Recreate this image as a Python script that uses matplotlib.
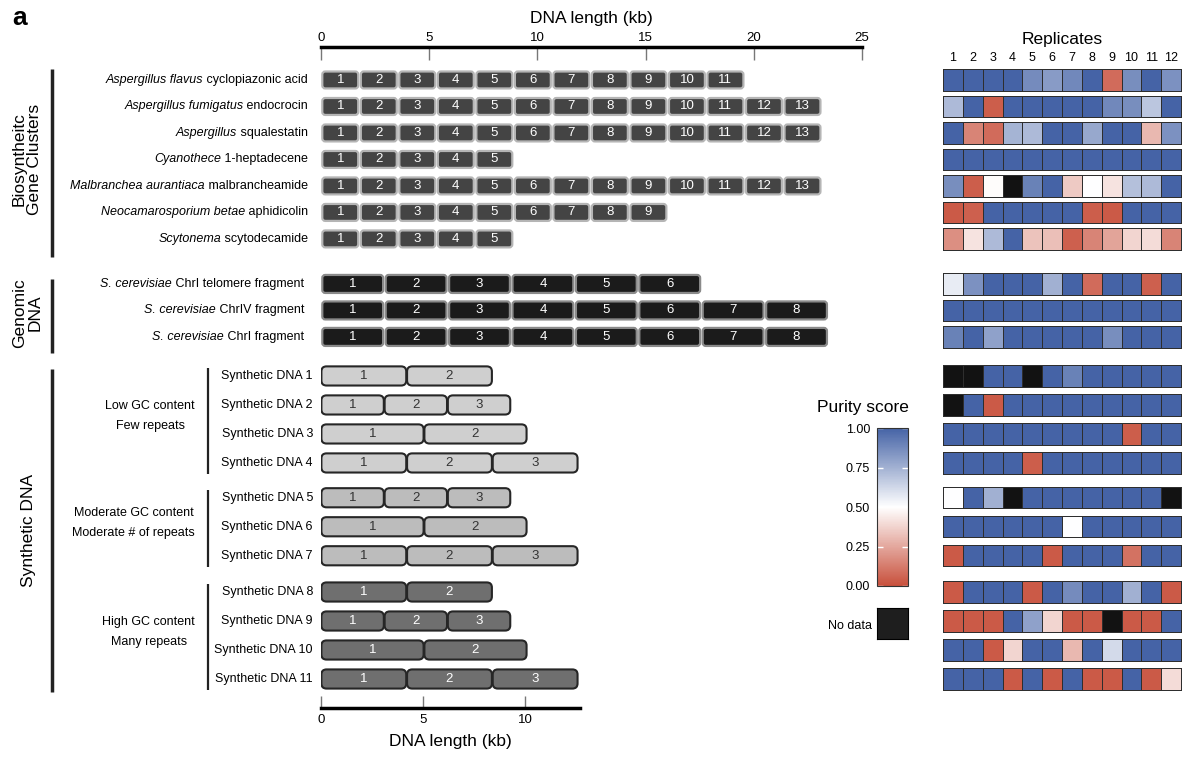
import numpy as np
import matplotlib
matplotlib.use("Agg")
import matplotlib.pyplot as plt
import matplotlib.transforms as mtransforms
from matplotlib.patches import FancyBboxPatch
from matplotlib.colors import LinearSegmentedColormap, Normalize
from matplotlib.cm import ScalarMappable
from matplotlib.lines import Line2D

plt.rcParams['font.family'] = ['Liberation Sans', 'DejaVu Sans']

# ---- data ----
bgc_genus = ["Aspergillus flavus", "Aspergillus fumigatus", "Aspergillus", "Cyanothece",
             "Malbranchea aurantiaca", "Neocamarosporium betae", "Scytonema"]
bgc_product = [" cyclopiazonic acid", " endocrocin", " squalestatin", " 1-heptadecene",
               " malbrancheamide", " aphidicolin", " scytodecamide"]
bgc_fragments = [11, 13, 13, 5, 13, 9, 5]
bgc_fragment_kb = 1.78

genomic_genus = ["S. cerevisiae", "S. cerevisiae", "S. cerevisiae"]
genomic_region = [" ChrI telomere fragment", " ChrIV fragment", " ChrI fragment"]
genomic_fragments = [6, 8, 8]
genomic_fragment_kb = 2.93

synthetic_names = ["Synthetic DNA %d" % i for i in range(1, 12)]
synthetic_fragments = [2, 3, 2, 3, 3, 2, 3, 2, 3, 2, 3]
synthetic_fragment_kb = [4.2, 3.1, 5.05, 4.2, 3.1, 5.05, 4.2, 4.2, 3.1, 5.05, 4.2]
synthetic_groups = ["Low GC content\nFew repeats",
                    "Moderate GC content\nModerate # of repeats",
                    "High GC content\nMany repeats"]
synthetic_group_sizes = [4, 3, 4]

replicates = list(range(1, 13))
nan = np.nan
bgc_purity = [
    [1.0, 1.0, 1.0, 1.0, 0.87, 0.82, 0.88, 1.0, 0.08, 0.86, 1.0, 0.85],
    [0.72, 1.0, 0.04, 1.0, 1.0, 1.0, 1.0, 1.0, 0.88, 0.86, 0.68, 1.0],
    [1.0, 0.15, 0.08, 0.74, 0.72, 1.0, 1.0, 0.78, 1.0, 1.0, 0.30, 0.85],
    [1.0, 1.0, 1.0, 1.0, 1.0, 1.0, 1.0, 1.0, 1.0, 1.0, 1.0, 1.0],
    [0.86, 0.04, 0.49, nan, 0.9, 1.0, 0.35, 0.5, 0.42, 0.70, 0.72, 1.0],
    [0.03, 0.05, 1.0, 1.0, 1.0, 1.0, 1.0, 0.04, 0.03, 1.0, 1.0, 1.0],
    [0.18, 0.42, 0.72, 1.0, 0.33, 0.32, 0.05, 0.15, 0.24, 0.38, 0.40, 0.15],
]
genomic_purity = [
    [0.56, 0.85, 1.0, 1.0, 1.0, 0.75, 1.0, 0.08, 1.0, 1.0, 0.05, 1.0],
    [1.0, 1.0, 1.0, 1.0, 1.0, 1.0, 1.0, 1.0, 1.0, 1.0, 1.0, 1.0],
    [0.9, 1.0, 0.8, 1.0, 1.0, 1.0, 1.0, 1.0, 0.86, 1.0, 1.0, 1.0],
]
synthetic_purity = [
    [nan, nan, 1.0, 1.0, nan, 1.0, 0.9, 1.0, 1.0, 1.0, 1.0, 1.0],
    [nan, 1.0, 0.03, 1.0, 1.0, 1.0, 1.0, 1.0, 1.0, 1.0, 1.0, 1.0],
    [1.0, 1.0, 1.0, 1.0, 1.0, 1.0, 1.0, 1.0, 1.0, 0.04, 1.0, 1.0],
    [1.0, 1.0, 1.0, 1.0, 0.04, 1.0, 1.0, 1.0, 1.0, 1.0, 1.0, 1.0],
    [0.5, 1.0, 0.75, nan, 1.0, 1.0, 1.0, 1.0, 1.0, 1.0, 1.0, nan],
    [1.0, 1.0, 1.0, 1.0, 1.0, 1.0, 0.5, 1.0, 1.0, 1.0, 1.0, 1.0],
    [0.03, 1.0, 1.0, 1.0, 1.0, 0.03, 1.0, 1.0, 1.0, 0.1, 1.0, 1.0],
    [0.03, 1.0, 1.0, 1.0, 0.03, 1.0, 0.87, 1.0, 1.0, 0.75, 1.0, 0.03],
    [0.03, 0.03, 0.03, 1.0, 0.8, 0.38, 0.03, 0.03, nan, 0.03, 0.03, 1.0],
    [1.0, 1.0, 0.03, 0.38, 1.0, 1.0, 0.3, 1.0, 0.62, 1.0, 1.0, 1.0],
    [1.0, 1.0, 1.0, 0.03, 1.0, 0.03, 1.0, 0.03, 0.03, 1.0, 0.03, 0.4],
]

# ---- layout ----
W, H = 1200, 761
fig = plt.figure(figsize=(W / 100, H / 100), dpi=100)


def box(l, t, r, b):
    return fig.add_axes([l / W, 1 - b / H, (r - l) / W, (b - t) / H])


# row slots: top panel (BGC + genomic), bottom panel (synthetic)
bgc_y = np.arange(len(bgc_genus))
gen_y = bgc_y[-1] + 1.7 + np.arange(len(genomic_genus))
syn_starts = [0, 4.2, 7.45]
syn_y = np.concatenate([s + np.arange(n) for s, n in zip(syn_starts, synthetic_group_sizes)])

ax_top = box(321, 47, 862, 356)
ax_top.set_xlim(0, 25)
ax_top.set_ylim(10.42, -1.245)
ax_bot = box(321, 360, 580, 708)
ax_bot.set_xlim(0, 12.7)
ax_bot.set_ylim(11.45, -0.55)
hm_top = box(943, 67, 1181, 356)
hm_top.set_ylim(10.42, -0.486)
hm_bot = box(943, 360, 1181, 708)
hm_bot.set_ylim(11.45, -0.55)


def aspect(ax):
    bb = ax.get_position()
    x0, x1 = ax.get_xlim()
    y0, y1 = ax.get_ylim()
    ppx = bb.width * W / abs(x1 - x0)
    ppy = bb.height * H / abs(y1 - y0)
    return ppx / ppy


def blocks(ax, y, n, length, h, face, edge, lw, gap, r, tcolor):
    a = aspect(ax)
    for k in range(n):
        x0 = k * length + gap / 2
        w = length - gap
        ax.add_patch(FancyBboxPatch((x0, y - h / 2), w, h,
                                    boxstyle="round,pad=0,rounding_size=%g" % r,
                                    mutation_aspect=a, fc=face, ec=edge, lw=lw))
        ax.text(x0 + w / 2, y, str(k + 1), ha='center', va='center',
                color=tcolor, fontsize=9.5)


for y, n in zip(bgc_y, bgc_fragments):
    blocks(ax_top, y, n, bgc_fragment_kb, 0.64, '#444444', '#b5b5b5', 1.6, 0.12, 0.14, 'white')
for y, n in zip(gen_y, genomic_fragments):
    blocks(ax_top, y, n, genomic_fragment_kb, 0.68, '#1b1b1b', '#8a8a8a', 1.6, 0.12, 0.14, 'white')

syn_face = ['#cfcfcf'] * 4 + ['#bcbcbc'] * 3 + ['#6f6f6f'] * 4
syn_text = ['#333333'] * 7 + ['white'] * 4
for i, y in enumerate(syn_y):
    blocks(ax_bot, y, synthetic_fragments[i], synthetic_fragment_kb[i], 0.66,
           syn_face[i], '#262626', 1.5, 0.04, 0.25, syn_text[i])

# axes styling
for ax in (ax_top, ax_bot):
    ax.set_yticks([])
    for s in ax.spines.values():
        s.set_visible(False)
ax_top.spines['top'].set_visible(True)
ax_top.spines['top'].set_linewidth(2.5)
ax_top.xaxis.tick_top()
ax_top.xaxis.set_label_position('top')
ax_top.set_xticks(np.arange(0, 26, 5))
ax_top.tick_params(axis='x', direction='in', length=9, width=1, color='#777777',
                   labelsize=9.5, pad=2)
ax_top.set_xlabel('DNA length (kb)', fontsize=12.5, labelpad=7)

ax_bot.spines['bottom'].set_visible(True)
ax_bot.spines['bottom'].set_linewidth(2.5)
ax_bot.set_xticks([0, 5, 10])
ax_bot.tick_params(axis='x', direction='in', length=9, width=1, color='#777777',
                   labelsize=9.5, pad=4)
ax_bot.set_xlabel('DNA length (kb)', fontsize=12.5, labelpad=6)

# row labels (italic genus + roman rest)
renderer = fig.canvas.get_renderer()
inv = fig.transFigure.inverted()


def row_label(ax, x_px, y, it, rest):
    tr = mtransforms.blended_transform_factory(fig.transFigure, ax.transData)
    t = ax.text(x_px / W, y, rest, transform=tr, ha='right', va='center', fontsize=9)
    x0 = inv.transform(t.get_window_extent(renderer).p0)[0]
    if it:
        ax.text(x0, y, it, transform=tr, ha='right', va='center', fontsize=9, style='italic')


for y, g, p in zip(bgc_y, bgc_genus, bgc_product):
    row_label(ax_top, 308, y, g, p)
for y, g, p in zip(gen_y, genomic_genus, genomic_region):
    row_label(ax_top, 304, y, g, p)
for y, name in zip(syn_y, synthetic_names):
    row_label(ax_bot, 313, y, None, name)


# brackets and group labels
def bracket(ax, x_px, y0, y1, lw):
    tr = mtransforms.blended_transform_factory(fig.transFigure, ax.transData)
    fig.add_artist(Line2D([x_px / W, x_px / W], [y0, y1], transform=tr,
                          color='#222222', lw=lw, solid_capstyle='butt'))


def group_label(ax, x_px, y, s, size, rot=90):
    tr = mtransforms.blended_transform_factory(fig.transFigure, ax.transData)
    ax.text(x_px / W, y, s, transform=tr, rotation=rot, ha='center', va='center',
            fontsize=size, multialignment='center', linespacing=1.05)


bracket(ax_top, 52, bgc_y[0] - 0.4, bgc_y[-1] + 0.7, 2.5)
bracket(ax_top, 52, gen_y[0] - 0.2, gen_y[-1] + 0.6, 2.5)
bracket(ax_bot, 52, syn_y[0] - 0.25, syn_y[-1] + 0.45, 2.5)
group_label(ax_top, 27, bgc_y.mean(), 'Biosyntheitc\nGene Clusters', 12.5)
group_label(ax_top, 27, gen_y.mean() + 0.1, 'Genomic\nDNA', 12.5)
group_label(ax_bot, 29, syn_y.mean() + 0.1, 'Synthetic DNA', 12.5)

start = 0
for name, n in zip(synthetic_groups, synthetic_group_sizes):
    ys = syn_y[start:start + n]
    bracket(ax_bot, 208, ys[0] - 0.28, ys[-1] + 0.38, 1.6)
    tr = mtransforms.blended_transform_factory(fig.transFigure, ax_bot.transData)
    ax_bot.text(195 / W, ys.mean() - 0.12, name, transform=tr, ha='right', va='center',
                fontsize=9, linespacing=1.9, multialignment='center')
    start += n

# heatmap
cmap = LinearSegmentedColormap.from_list('purity', ['#c8503c', '#ffffff', '#4563a6'])
cmap.set_bad('#121212')
norm = Normalize(0, 1)
xe = np.arange(len(replicates) + 1)
for hm, ys, rows, h in ((hm_top, np.concatenate([bgc_y, gen_y]), bgc_purity + genomic_purity, 0.81),
                        (hm_bot, syn_y, synthetic_purity, 0.74)):
    for y, row in zip(ys, rows):
        hm.pcolormesh(xe, [y - h / 2, y + h / 2], np.ma.masked_invalid([row]), cmap=cmap,
                      norm=norm, edgecolor='#2e2e2e', linewidth=0.5, clip_on=False)
    hm.set_xlim(0, len(replicates))
    for s in hm.spines.values():
        s.set_visible(False)
    hm.set_yticks([])
    hm.set_xticks([])

hm_top.xaxis.tick_top()
hm_top.set_xticks(xe[:-1] + 0.5)
hm_top.set_xticklabels([str(r) for r in replicates])
hm_top.tick_params(axis='x', length=0, labelsize=9, pad=2)
hm_top.set_title('Replicates', fontsize=12.5, pad=6)

# colorbar
cax = box(877, 428, 908, 586)
cb = fig.colorbar(ScalarMappable(norm=norm, cmap=cmap), cax=cax, ticks=[0, 0.25, 0.5, 0.75, 1.0],
                  format='%.2f')
cax.yaxis.set_ticks_position('both')
cax.tick_params(direction='in', color='white', length=4, width=1, labelsize=9,
                labelleft=True, labelright=False, pad=5)
cb.outline.set_linewidth(0.8)
cb.outline.set_edgecolor('#333333')
fig.text(863 / W, 1 - 407 / H, 'Purity score', ha='center', va='center', fontsize=12.5)

nd = box(877, 608, 908, 639)
nd.set_facecolor('#1e1e1e')
nd.set_xticks([])
nd.set_yticks([])
fig.text(872 / W, 1 - 626 / H, 'No data', ha='right', va='center', fontsize=9)

fig.text(12 / W, 1 - 18 / H, 'a', ha='left', va='center', fontsize=19, fontweight='bold')

fig.savefig('out.png', dpi=100)
